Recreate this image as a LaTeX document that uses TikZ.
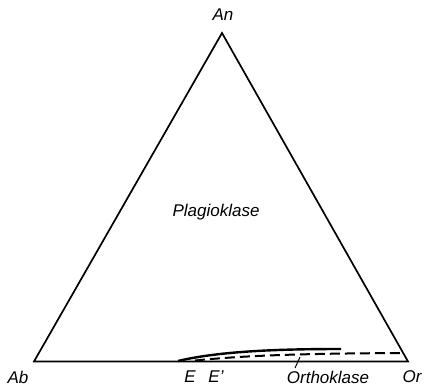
\documentclass[tikz,border=0pt]{standalone}
\usepackage{fontspec}
\setmainfont{Liberation Sans}
\begin{document}
\begin{tikzpicture}[x=1pt,y=-1pt,
  lbl/.style={font=\fontsize{17}{17}\selectfont\itshape, inner sep=0pt},
  edge/.style={line width=1.7pt, line join=miter},
  solidcurve/.style={line width=2.4pt},
  dashcurve/.style={line width=2pt, dash pattern=on 10pt off 5pt}]
\useasboundingbox (0,0) rectangle (425,391);
\coordinate (Ab) at (34,361.5);
\coordinate (Or) at (408,361.5);
\coordinate (An) at (222,33);
\draw[edge] (Ab) -- (Or) -- (An) -- cycle;
\coordinate (E) at (178,361);
\coordinate (S1) at (341,349);
\coordinate (D0) at (195,360.5);
\coordinate (D1) at (403,353);
\draw[solidcurve] (E) .. controls (220,351) and (280,349) .. (S1);
\draw[dashcurve] (D0) .. controls (250,355) and (310,353.5) .. (D1);
\node[lbl] (lAn) at (223,15) {An};
\node[lbl] (lAb) at (18,377) {Ab};
\node[lbl] (lOr) at (412,377) {Or};
\node[lbl] (lE) at (190,377) {E};
\node[lbl] (lEp) at (216,377) {E'};
\node[lbl] (lPl) at (216,212) {Plagioklase};
\node[lbl] (lOk) at (328,377) {Orthoklase};
\coordinate (tk) at (300,357);
\draw[line width=1pt] (295,368) -- (tk);
\end{tikzpicture}
\end{document}
